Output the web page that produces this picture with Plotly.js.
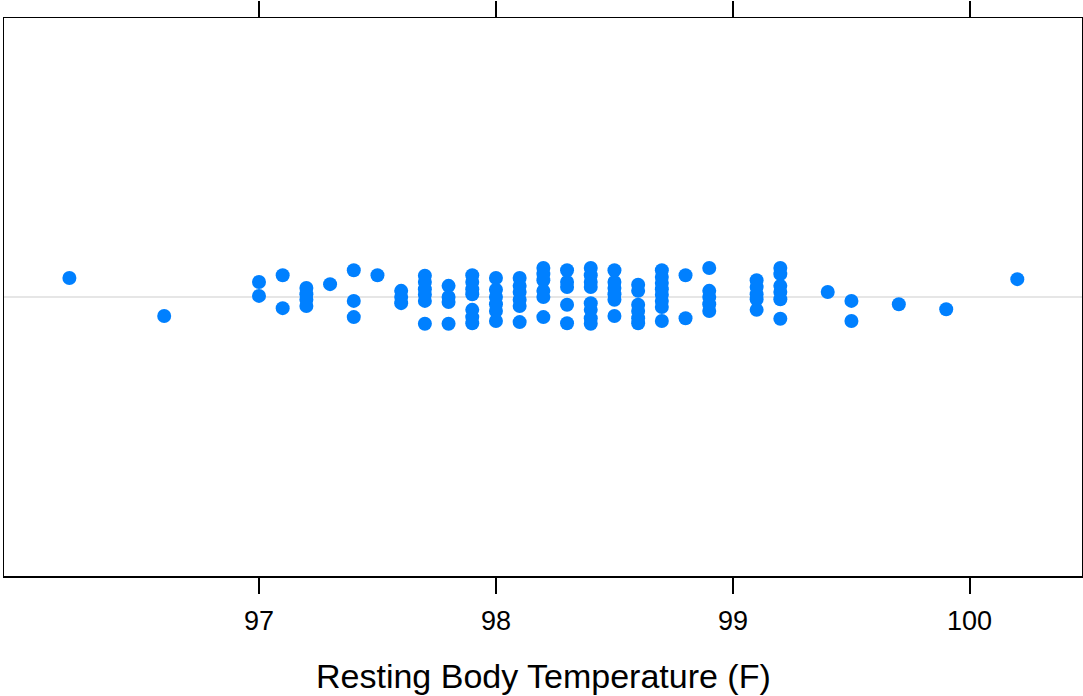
<!DOCTYPE html>
<html>
<head>
<meta charset="utf-8">
<script src="https://cdn.plot.ly/plotly-3.0.1.min.js"></script>
<style>html,body{margin:0;padding:0;background:#fff;}#chart{width:1083px;height:696px;}</style>
</head>
<body>
<div id="chart"></div>
<script>
// Resting body temperature (F), one entry per visible point
const temperature = [
  96.2, 96.6,
  97.0, 97.0,
  97.1, 97.1,
  97.2, 97.2, 97.2, 97.2,
  97.3,
  97.4, 97.4, 97.4,
  97.5,
  97.6, 97.6, 97.6,
  97.7, 97.7, 97.7, 97.7, 97.7, 97.7,
  97.8, 97.8, 97.8, 97.8,
  97.9, 97.9, 97.9, 97.9, 97.9, 97.9, 97.9,
  98.0, 98.0, 98.0, 98.0, 98.0, 98.0,
  98.1, 98.1, 98.1, 98.1, 98.1, 98.1,
  98.2, 98.2, 98.2, 98.2, 98.2, 98.2,
  98.3, 98.3, 98.3, 98.3, 98.3,
  98.4, 98.4, 98.4, 98.4, 98.4, 98.4, 98.4, 98.4,
  98.5, 98.5, 98.5, 98.5, 98.5, 98.5,
  98.6, 98.6, 98.6, 98.6, 98.6, 98.6,
  98.7, 98.7, 98.7, 98.7, 98.7, 98.7, 98.7, 98.7,
  98.8, 98.8,
  98.9, 98.9, 98.9, 98.9, 98.9,
  99.1, 99.1, 99.1, 99.1, 99.1,
  99.2, 99.2, 99.2, 99.2, 99.2, 99.2,
  99.4,
  99.5, 99.5,
  99.7,
  99.9,
  100.2
];
// vertical jitter (strip plot)
const jitter = [
  0.034, -0.034,
  0.027, 0.002,
  0.039, -0.020,
  0.016, 0.005, -0.005, -0.016,
  0.023,
  0.048, -0.007, -0.036,
  0.039,
  0.011, 0.000, -0.011,
  0.038, 0.027, 0.014, 0.004, -0.007, -0.048,
  0.020, 0.000, -0.009, -0.048,
  0.039, 0.027, 0.014, 0.005, -0.023, -0.036, -0.047,
  0.034, 0.013, 0.000, -0.013, -0.025, -0.043,
  0.034, 0.020, 0.009, -0.005, -0.016, -0.045,
  0.052, 0.041, 0.030, 0.011, 0.000, -0.036,
  0.048, 0.027, 0.018, -0.014, -0.047,
  0.052, 0.039, 0.027, 0.018, -0.011, -0.023, -0.038, -0.048,
  0.048, 0.027, 0.016, 0.005, -0.005, -0.034,
  0.022, 0.011, -0.014, -0.025, -0.038, -0.047,
  0.048, 0.036, 0.025, 0.014, 0.004, -0.007, -0.018, -0.043,
  0.039, -0.038,
  0.052, 0.011, 0.000, -0.013, -0.025,
  0.030, 0.018, 0.005, -0.004, -0.023,
  0.052, 0.041, 0.020, 0.009, -0.004, -0.039,
  0.009,
  -0.007, -0.043,
  -0.013,
  -0.022,
  0.032
];
const xTicks = [97, 98, 99, 100];
const xTitle = 'Resting Body Temperature (F)';
const FONT = '"Liberation Sans", Arial, sans-serif';

// tick labels placed at the axis' own tick values
const tickLabels = xTicks.map(v => ({
  x: v, xref: 'x', y: 0, yref: 'paper',
  yanchor: 'middle', xanchor: 'center', yshift: -45,
  text: String(v), showarrow: false,
  font: {family: FONT, size: 27, color: '#000'}
}));
const titleAnn = {
  x: 0.5, xref: 'paper', y: 0, yref: 'paper',
  yanchor: 'middle', xanchor: 'center', yshift: -100,
  text: xTitle, showarrow: false,
  font: {family: FONT, size: 34, color: '#000'}
};

Plotly.newPlot('chart', [{
  type: 'scatter', mode: 'markers',
  x: temperature, y: jitter,
  marker: {color: '#0080ff', size: 14, line: {width: 0}},
  hoverinfo: 'x'
}], {
  width: 1083, height: 696,
  margin: {l: 4, r: 1, t: 18, b: 120},
  paper_bgcolor: '#fff', plot_bgcolor: '#fff',
  showlegend: false,
  font: {family: FONT, color: '#000'},
  annotations: tickLabels.concat([titleAnn]),
  xaxis: {
    range: [95.924, 100.473],
    tickmode: 'array', tickvals: xTicks,
    showticklabels: false,
    ticks: 'outside', ticklen: 16, tickwidth: 1.3, tickcolor: '#000',
    showline: true, linecolor: '#000', linewidth: 1.5, mirror: 'ticks',
    showgrid: false, zeroline: false
  },
  yaxis: {
    range: [-0.5, 0.5],
    showticklabels: false, ticks: '',
    showline: true, linecolor: '#000', linewidth: 1.5, mirror: true,
    showgrid: false,
    zeroline: true, zerolinecolor: '#e6e6e6', zerolinewidth: 1.5
  }
}, {staticPlot: true});
</script>
</body>
</html>
